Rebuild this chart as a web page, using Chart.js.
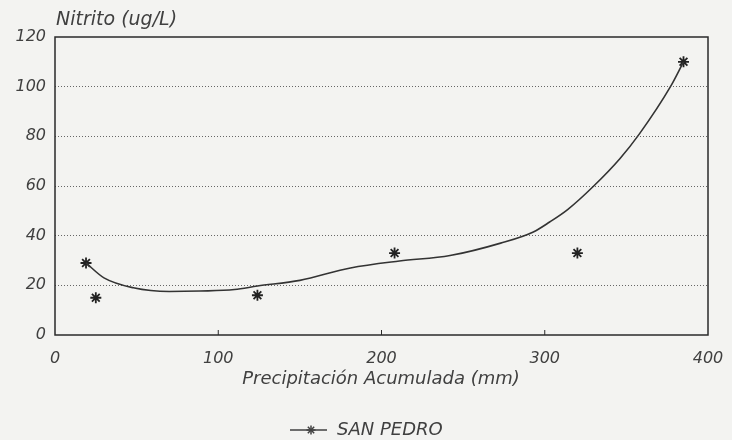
<!DOCTYPE html>
<html>
<head>
<meta charset="utf-8">
<script src="https://cdn.jsdelivr.net/npm/chart.js@4"></script>
<style>
    html, body { margin: 0; padding: 0; background: #f3f3f1; }
    #wrap { width: 732px; height: 440px; }
</style>
</head>
<body>
<div id="wrap"><canvas id="chart" width="732" height="440"></canvas></div>
<script>
// Datos medidos (precipitación acumulada vs nitrito)
const precip = [19, 25, 124, 208, 320, 385];
const nitrito = [29, 15, 16, 33, 33, 110];

// Línea de tendencia
const curveX = [19, 30, 48, 70, 89, 110, 124, 150, 181, 211, 242, 273, 293, 303, 314, 330, 346, 358, 377, 385];
const curveY = [29, 23, 19, 17.5, 17.7, 18.3, 19.7, 22, 27, 29.8, 32, 37, 41.5, 45.5, 50.5, 60, 71, 81, 100, 110];

const xTicks = [0, 100, 200, 300, 400];
const yTicks = [0, 20, 40, 60, 80, 100, 120];

const seriesName = 'SAN PEDRO';
const yTitle = 'Nitrito (ug/L)';
const xTitle = 'Precipitación Acumulada (mm)';

const fontFam = '"DejaVu Sans", sans-serif';
const ink = '#404040';

const decor = {
    id: 'decor',
    afterDraw(chart) {
        const { ctx, chartArea: a, scales } = chart;
        ctx.save();
        // marco
        ctx.strokeStyle = '#2a2a2a';
        ctx.lineWidth = 1.5;
        ctx.strokeRect(a.left, a.top, a.right - a.left, a.bottom - a.top);
        // marcas interiores del eje x
        ctx.lineWidth = 1;
        xTicks.slice(1, -1).forEach(v => {
            const px = scales.x.getPixelForValue(v);
            ctx.beginPath();
            ctx.moveTo(px, a.bottom);
            ctx.lineTo(px, a.bottom - 5);
            ctx.stroke();
        });
        // títulos
        ctx.fillStyle = ink;
        ctx.font = 'oblique 19px ' + fontFam;
        ctx.textBaseline = 'middle';
        ctx.textAlign = 'left';
        ctx.fillText(yTitle, 56, 20);
        ctx.font = 'oblique 18px ' + fontFam;
        ctx.textAlign = 'center';
        ctx.fillText(xTitle, 381, 379);
        // leyenda
        const ly = 430;
        ctx.strokeStyle = ink;
        ctx.lineWidth = 1.5;
        ctx.beginPath();
        ctx.moveTo(290, ly);
        ctx.lineTo(327, ly);
        ctx.stroke();
        [0, 45, 90, 135].forEach(d => {
            const r = 4.5, t = d * Math.PI / 180;
            ctx.beginPath();
            ctx.moveTo(311 - r * Math.cos(t), ly - r * Math.sin(t));
            ctx.lineTo(311 + r * Math.cos(t), ly + r * Math.sin(t));
            ctx.stroke();
        });
        ctx.textAlign = 'left';
        ctx.font = 'oblique 18px ' + fontFam;
        ctx.fillText(seriesName, 337, ly);
        ctx.restore();
    }
};

new Chart(document.getElementById('chart').getContext('2d'), {
    type: 'scatter',
    data: {
        datasets: [
            {
                label: 'tendencia',
                data: curveX.map((x, i) => ({ x: x, y: curveY[i] })),
                showLine: true,
                borderColor: '#333',
                borderWidth: 1.6,
                pointRadius: 0,
                cubicInterpolationMode: 'monotone',
                fill: false
            },
            {
                label: seriesName,
                data: precip.map((x, i) => ({ x: x, y: nitrito[i] })),
                pointStyle: 'star',
                pointRadius: 5.5,
                borderColor: '#222',
                backgroundColor: '#222',
                borderWidth: 1.8
            }
        ]
    },
    options: {
        responsive: false,
        animation: false,
        layout: { padding: { left: 0, top: 37, right: 24, bottom: 50 } },
        plugins: { legend: { display: false }, tooltip: { enabled: false } },
        scales: {
            x: {
                type: 'linear',
                min: 0, max: 400,
                afterFit: s => { s.height = 55; s.paddingLeft = 0; s.paddingRight = 0; },
                afterBuildTicks: s => { s.ticks = xTicks.map(v => ({ value: v })); },
                grid: { drawOnChartArea: false, drawTicks: false },
                border: { display: false },
                ticks: { padding: 14, color: ink, font: { family: fontFam, size: 16, style: 'oblique' } }
            },
            y: {
                min: 0, max: 120,
                afterFit: s => { s.width = 55; s.paddingTop = 0; s.paddingBottom = 0; },
                afterBuildTicks: s => { s.ticks = yTicks.map(v => ({ value: v })); },
                grid: {
                    drawTicks: false,
                    color: c => (c.tick.value === 0 || c.tick.value === 120) ? 'rgba(0,0,0,0)' : '#666',
                    lineWidth: 1
                },
                border: { display: false, dash: [1, 2] },
                ticks: { padding: 9, color: ink, font: { family: fontFam, size: 16, style: 'oblique' } }
            }
        }
    },
    plugins: [decor]
});
</script>
</body>
</html>
